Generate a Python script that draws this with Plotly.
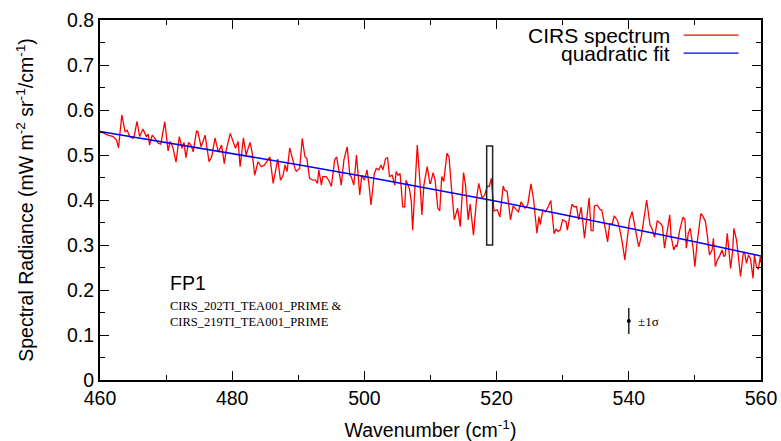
import plotly.graph_objects as go

# CIRS spectrum (wavenumber cm^-1, radiance)
wavenumber = [460.0, 461.2, 462.0, 462.5, 462.8, 463.3, 463.8, 464.1, 464.5, 465.0, 465.2, 465.6, 466.0, 466.5,
              467.0, 467.3, 467.5, 467.9, 468.3, 468.8, 469.2, 469.8, 470.3, 470.6, 471.0, 471.5, 472.0, 472.4,
              472.7, 473.0, 473.4, 473.8, 474.1, 474.6, 474.8, 475.3, 475.9, 476.5, 476.9, 477.4, 477.9, 478.4,
              478.8, 479.1, 479.7, 480.1, 480.5, 480.9, 481.2, 481.7, 482.1, 482.7, 483.0, 483.4, 483.9, 484.4,
              484.9, 485.4, 485.7, 486.2, 486.5, 486.9, 487.3, 487.7, 488.0, 488.3, 488.7, 489.0, 489.5, 489.7,
              490.2, 490.6, 491.0, 491.3, 491.7, 492.2, 492.6, 492.9, 493.1, 493.5, 493.7, 494.2, 494.6, 495.0,
              495.5, 495.8, 496.3, 496.5, 496.9, 497.4, 497.8, 498.0, 498.4, 498.8, 499.3, 499.6, 500.0, 500.4,
              500.7, 501.0, 501.5, 501.8, 502.2, 502.5, 502.8, 503.2, 503.5, 503.8, 504.2, 504.6, 504.8, 505.1,
              505.4, 505.8, 506.1, 506.3, 506.8, 507.1, 507.3, 507.8, 508.0, 508.4, 508.7, 509.0, 509.5, 509.9,
              510.0, 510.4, 510.7, 511.1, 511.4, 511.7, 512.0, 512.5, 512.8, 513.2, 513.6, 514.1, 514.5, 515.0,
              515.3, 515.7, 516.0, 516.5, 517.0, 517.3, 517.8, 518.2, 518.6, 518.9, 519.2, 519.6, 520.1, 520.5,
              521.0, 521.2, 521.6, 522.1, 522.5, 523.0, 523.3, 523.7, 524.0, 524.3, 524.7, 525.2, 525.6, 526.1,
              526.4, 526.6, 527.0, 527.4, 527.8, 528.2, 528.7, 529.0, 529.3, 529.6, 530.0, 530.5, 530.7, 531.1,
              531.4, 531.7, 532.1, 532.4, 532.8, 533.3, 533.7, 534.0, 534.3, 534.6, 534.8, 535.2, 535.7, 535.9,
              536.2, 536.8, 537.1, 537.5, 537.8, 538.3, 538.6, 539.0, 539.4, 539.8, 540.1, 540.5, 540.8, 541.1,
              541.5, 541.9, 542.3, 542.7, 543.2, 543.5, 543.9, 544.3, 544.8, 545.1, 545.4, 545.8, 546.2, 546.4,
              546.8, 547.1, 547.3, 547.7, 548.2, 548.5, 548.7, 549.0, 549.3, 549.7, 550.0, 550.3, 550.6, 550.9,
              551.2, 551.6, 551.9, 552.2, 552.6, 552.8, 553.1, 553.4, 553.7, 554.1, 554.4, 554.6, 554.9, 555.1,
              555.4, 555.7, 555.9, 556.3, 556.6, 556.9, 557.3, 557.5, 557.8, 558.1, 558.4, 558.8, 559.0, 559.3,
              559.6, 559.9, 560.0]
radiance = [0.553, 0.544, 0.541, 0.533, 0.516, 0.589, 0.552, 0.555, 0.541, 0.537, 0.544, 0.575, 0.541, 0.558,
            0.541, 0.546, 0.522, 0.544, 0.537, 0.526, 0.524, 0.574, 0.509, 0.530, 0.518, 0.484, 0.541, 0.515,
            0.528, 0.494, 0.528, 0.521, 0.507, 0.553, 0.552, 0.518, 0.544, 0.485, 0.496, 0.538, 0.507, 0.522,
            0.481, 0.511, 0.548, 0.533, 0.515, 0.530, 0.474, 0.538, 0.500, 0.528, 0.507, 0.455, 0.485, 0.474,
            0.478, 0.489, 0.496, 0.437, 0.463, 0.491, 0.444, 0.455, 0.478, 0.463, 0.516, 0.496, 0.470, 0.464,
            0.470, 0.537, 0.496, 0.492, 0.448, 0.444, 0.444, 0.437, 0.467, 0.433, 0.452, 0.452, 0.444, 0.430,
            0.489, 0.496, 0.452, 0.433, 0.489, 0.518, 0.455, 0.452, 0.433, 0.500, 0.411, 0.455, 0.444, 0.467,
            0.433, 0.389, 0.459, 0.470, 0.467, 0.478, 0.467, 0.492, 0.494, 0.452, 0.455, 0.433, 0.463, 0.455,
            0.459, 0.385, 0.385, 0.444, 0.426, 0.396, 0.333, 0.463, 0.522, 0.441, 0.367, 0.433, 0.474, 0.437,
            0.437, 0.461, 0.444, 0.382, 0.376, 0.452, 0.441, 0.504, 0.496, 0.422, 0.356, 0.382, 0.341, 0.461,
            0.433, 0.356, 0.391, 0.322, 0.407, 0.437, 0.404, 0.411, 0.431, 0.430, 0.448, 0.376, 0.378, 0.362,
            0.431, 0.422, 0.419, 0.356, 0.387, 0.378, 0.374, 0.396, 0.389, 0.382, 0.389, 0.436, 0.400, 0.326,
            0.363, 0.345, 0.378, 0.374, 0.385, 0.399, 0.325, 0.335, 0.330, 0.333, 0.356, 0.352, 0.333, 0.370,
            0.391, 0.385, 0.385, 0.356, 0.384, 0.315, 0.367, 0.405, 0.332, 0.332, 0.387, 0.389, 0.378, 0.378,
            0.356, 0.307, 0.347, 0.347, 0.365, 0.354, 0.337, 0.307, 0.267, 0.317, 0.356, 0.374, 0.348, 0.330,
            0.296, 0.319, 0.357, 0.400, 0.345, 0.337, 0.317, 0.354, 0.348, 0.341, 0.293, 0.330, 0.367, 0.319,
            0.289, 0.300, 0.296, 0.333, 0.362, 0.356, 0.293, 0.326, 0.337, 0.296, 0.252, 0.300, 0.333, 0.370,
            0.364, 0.352, 0.319, 0.278, 0.289, 0.315, 0.252, 0.267, 0.274, 0.289, 0.274, 0.278, 0.326, 0.293,
            0.248, 0.285, 0.337, 0.311, 0.270, 0.230, 0.280, 0.285, 0.259, 0.278, 0.270, 0.226, 0.278, 0.252,
            0.246, 0.274, 0.260]

# Quadratic fit sampled values
fit_wavenumber = [460, 470, 480, 490, 500, 510, 520, 530, 540, 550, 560]
fit_radiance = [0.552, 0.528, 0.504, 0.4785, 0.452, 0.425, 0.397, 0.368, 0.338, 0.307, 0.2755]

# Highlight box and error bar
box_x = [518.5, 519.4]
box_y = [0.30, 0.52]
err_x = [540]
err_y = [0.131]
err_sigma = [0.029]

# Tick labels
x_ticks = [460, 480, 500, 520, 540, 560]
y_ticks = [0, 0.1, 0.2, 0.3, 0.4, 0.5, 0.6, 0.7, 0.8]
y_tick_labels = ["0", "0.1", "0.2", "0.3", "0.4", "0.5", "0.6", "0.7", "0.8"]

series_names = ["CIRS spectrum", "quadratic fit"]
series_colors = ["#ff0000", "#0000ff"]

SANS = "Liberation Sans, Arial, Helvetica, sans-serif"
SERIF = "Liberation Serif, Times New Roman, serif"
FS = 19.5

fig = go.Figure()
fig.add_trace(go.Scatter(x=wavenumber, y=radiance, mode="lines", name=series_names[0],
                         line=dict(color=series_colors[0], width=1.3), showlegend=False))
fig.add_trace(go.Scatter(x=fit_wavenumber, y=fit_radiance, mode="lines", name=series_names[1],
                         line=dict(color=series_colors[1], width=1.5), showlegend=False))
fig.add_trace(go.Scatter(x=err_x, y=err_y, mode="markers",
                         marker=dict(color="black", size=4),
                         error_y=dict(type="data", array=err_sigma, color="black", thickness=1.3, width=0),
                         showlegend=False))

fig.add_shape(type="rect", x0=box_x[0], x1=box_x[1], y0=box_y[0], y1=box_y[1],
              line=dict(color="#222222", width=1.5))

# gnuplot-like legend: text left, sample line right
for i, (name, col) in enumerate(zip(series_names, series_colors)):
    ypos = 0.958 - i * 0.05
    fig.add_annotation(x=0.866, y=ypos, xref="paper", yref="paper", text=name, showarrow=False,
                       xanchor="right", yanchor="middle", font=dict(family=SANS, size=21, color="black"))
    fig.add_shape(type="line", xref="paper", yref="paper", x0=0.883, x1=0.966, y0=ypos, y1=ypos,
                  line=dict(color=col, width=1.3))

fig.add_annotation(x=470.3, y=0.216, text="FP1", showarrow=False, xanchor="left", yanchor="middle",
                   font=dict(family=SANS, size=FS, color="black"))
fig.add_annotation(x=470.3, y=0.146, text="CIRS_202TI_TEA001_PRIME &<br>CIRS_219TI_TEA001_PRIME",
                   showarrow=False, xanchor="left", yanchor="middle", align="left",
                   font=dict(family=SERIF, size=12.5, color="black"))
fig.add_annotation(x=541.1, y=0.131, text="±1σ", showarrow=False, xanchor="left", yanchor="middle",
                   font=dict(family=SERIF, size=13, color="black"))

axis_common = dict(showgrid=False, zeroline=False, showline=True, linecolor="black", linewidth=2,
                   mirror="allticks", ticks="inside", ticklen=9, tickwidth=1.3, tickcolor="black",
                   tickfont=dict(family=SANS, size=FS, color="black"), automargin=False)

fig.update_xaxes(range=[460, 560], tickvals=x_ticks, ticktext=[str(v) for v in x_ticks],
                 minor=dict(ticks="inside", dtick=10, ticklen=5, tickcolor="black", tickwidth=1.3),
                 title=dict(text="Wavenumber (cm<sup>-1</sup>)", font=dict(family=SANS, size=FS, color="black"),
                            standoff=18),
                 **axis_common)
fig.update_yaxes(range=[0, 0.8], tickvals=y_ticks, ticktext=y_tick_labels,
                 minor=dict(ticks="inside", dtick=0.05, ticklen=5, tickcolor="black", tickwidth=1.3),
                 title=dict(text="Spectral Radiance (mW m<sup>-2</sup> sr<sup>-1</sup>/cm<sup>-1</sup>)",
                            font=dict(family=SANS, size=FS, color="black"), standoff=28),
                 **axis_common)

fig.update_layout(width=781, height=441, margin=dict(l=100, r=20, t=20, b=61),
                  paper_bgcolor="white", plot_bgcolor="white", showlegend=False)

fig.write_html("out.html")
